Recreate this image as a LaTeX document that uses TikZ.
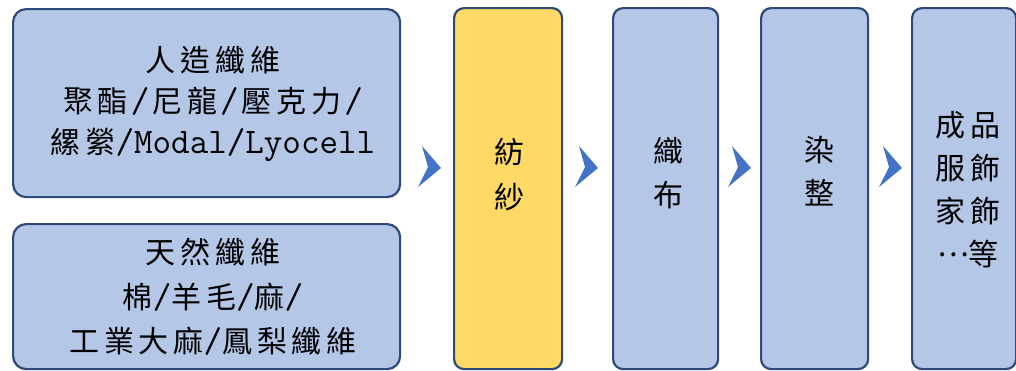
\documentclass[tikz,border=0pt]{standalone}
\usepackage{fontspec}
\newfontfamily\cjk{Noto Sans CJK TC}[LetterSpace=16]
\newfontfamily\lat{Latin Modern Mono}[Scale=1.2]
\newcommand\wsl{\hspace{3pt}{\lat /}\hspace{3pt}}
\definecolor{boxblue}{HTML}{B4C7E7}
\definecolor{boxyellow}{HTML}{FFD966}
\definecolor{edgeblue}{HTML}{2E4A78}
\definecolor{arrowblue}{HTML}{4472C4}
\tikzset{
  wide/.style={draw=edgeblue, line width=2.2pt, fill=boxblue, rounded corners=13pt, inner sep=0pt, anchor=north west},
  tall/.style={draw=edgeblue, line width=2.2pt, fill=boxblue, rounded corners=10pt, inner sep=0pt, anchor=north west, minimum height=361pt},
  txt/.style={align=center, inner sep=0pt, text=black},
  chevron/.pic={\fill[arrowblue] (-8,-21) -- (11,1) -- (-12,20) -- (-2,0) -- cycle;}
}
\begin{document}
\begin{tikzpicture}[x=1pt,y=-1pt]
\useasboundingbox (0,0) rectangle (1016,370);
% boxes
\node[wide, minimum width=387pt, minimum height=188pt] (manmade) at (12,8) {};
\node[wide, minimum width=387pt, minimum height=145pt] (natural) at (12,223) {};
\node[tall, minimum width=108pt, fill=boxyellow] (spin) at (453,7) {};
\node[tall, minimum width=105pt] (weave) at (612,7) {};
\node[tall, minimum width=107pt] (dye) at (760,7) {};
\node[tall, minimum width=104pt] (prod) at (911,7) {};
% texts
\node[txt, font=\fontsize{30}{41}\selectfont\cjk] (t1) at (213,104)
  {人造纖維\\聚酯\wsl 尼龍\wsl 壓克力\wsl\\縲縈{\lat /Modal/Lyocell}};
\node[txt, font=\fontsize{30}{44.5}\selectfont\cjk] (t2) at (213,297)
  {天然纖維\\棉{\lat /}羊毛{\lat /}麻{\lat /}\\工業大麻{\lat /}鳳梨纖維};
\node[txt, font=\fontsize{30}{45}\selectfont\cjk] (t3) at (509,175) {紡\\紗};
\node[txt, font=\fontsize{30}{44}\selectfont\cjk] (t4) at (668,173) {織\\布};
\node[txt, font=\fontsize{30}{43}\selectfont\cjk] (t5) at (819,171) {染\\整};
\node[txt, font=\fontsize{30}{43}\selectfont\cjk] (t6) at (968,190) {成品\\服飾\\家飾\\\raisebox{9pt}{…}等};
% chevrons between stages
\coordinate (c1) at (430,167);
\coordinate (c2) at (587,167);
\coordinate (c3) at (740,167);
\coordinate (c4) at (891,167);
\pic at (c1) {chevron};
\pic at (c2) {chevron};
\pic at (c3) {chevron};
\pic at (c4) {chevron};
\end{tikzpicture}
\end{document}
